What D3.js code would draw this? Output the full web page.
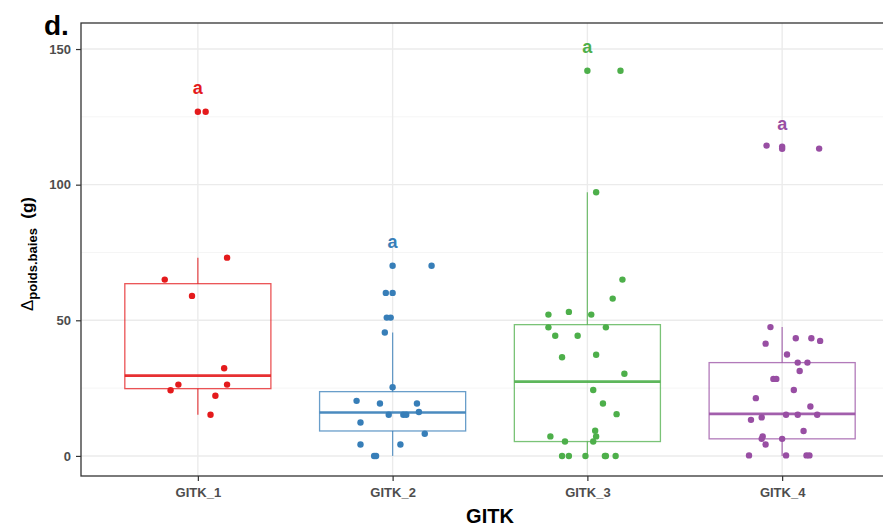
<!DOCTYPE html>
<html><head><meta charset="utf-8">
<script src="https://cdn.jsdelivr.net/npm/d3@7"></script>
<style>body{margin:0;background:#fff}svg{display:block}</style>
</head><body>
<script>
// ---- data ----
const categories = ["GITK_1","GITK_2","GITK_3","GITK_4"];
const colors = ["#E41A1C","#377EB8","#4DAF4A","#984EA3"];
// jittered points: [value, jitter offset in category units]
const pts1 = [[126.9,0.0],[126.9,0.04],[73.1,0.15],[65.0,-0.17],[59.0,-0.03],[32.3,0.135],[26.3,-0.10],[26.3,0.15],[24.2,-0.14],[22.2,0.09],[15.2,0.065]];
const pts2 = [[70.1,0.0],[70.1,0.20],[60.1,-0.035],[60.1,0.0],[51.0,-0.03],[51.0,-0.01],[45.5,-0.04],[25.3,0.0],[20.3,-0.185],[19.3,-0.065],[19.3,0.125],[16.2,0.135],[15.2,-0.02],[15.2,0.055],[15.2,0.07],[12.3,-0.165],[8.2,0.165],[4.2,-0.165],[4.2,0.04],[0.0,-0.095],[0.0,-0.085]];
const pts3 = [[142.0,0.0],[142.0,0.17],[97.2,0.045],[65.0,0.18],[58.0,0.13],[53.1,-0.095],[52.1,-0.2],[52.1,0.02],[47.4,-0.2],[47.4,0.095],[44.3,-0.165],[44.3,-0.05],[37.3,0.045],[36.4,-0.13],[30.3,0.19],[24.3,0.03],[19.3,0.08],[15.4,0.15],[9.3,0.04],[7.2,0.045],[7.2,-0.19],[5.3,-0.115],[5.3,0.03],[0.0,-0.13],[0.0,-0.095],[0.0,-0.01],[0.0,0.09],[0.0,0.095],[0.0,0.145]];
const pts4 = [[114.4,-0.08],[114.0,0.0],[113.2,0.0],[113.3,0.19],[47.5,-0.06],[43.4,0.07],[43.4,0.15],[42.4,0.195],[41.4,-0.085],[37.4,0.025],[34.4,0.08],[34.4,0.13],[31.3,0.09],[28.4,-0.045],[28.4,-0.03],[24.3,0.06],[21.3,-0.135],[18.2,0.145],[15.2,0.02],[15.2,0.08],[15.2,0.18],[14.2,-0.105],[13.3,-0.16],[9.2,0.11],[7.2,-0.1],[6.3,-0.105],[6.3,0.0],[4.2,-0.085],[0.2,-0.17],[0.2,0.02],[0.2,0.125],[0.2,0.14]];
// box stats: [lower whisker, q1, median, q3, upper whisker]
const boxStats = [[15.2,24.8,29.6,63.5,73.1],[0,9.2,16.0,23.7,45.5],[0,5.3,27.4,48.4,97.2],[0,6.3,15.5,34.4,47.5]];
const letters = ["a","a","a","a"];
const letterY = [135.6,78.9,151.0,122.4];
const yTicks = [0,50,100,150];
const yMinor = [25,75,125];

// ---- layout ----
const W=883,H=529;
const P={l:81,r:899,t:23,b:476};
const svg=d3.select("body").append("svg").attr("width",W).attr("height",H);
const x=d3.scalePoint().domain(categories).range([P.l,P.r]).padding(0.6);
const step=x.step();
const y=d3.scaleLinear().domain([-7.4,159.6]).range([P.b,P.t]);

svg.append("defs").append("clipPath").attr("id","c").append("rect")
  .attr("x",P.l).attr("y",P.t).attr("width",P.r-P.l).attr("height",P.b-P.t);
const g=svg.append("g").attr("clip-path","url(#c)");
g.append("rect").attr("x",P.l).attr("y",P.t).attr("width",P.r-P.l).attr("height",P.b-P.t).attr("fill","#fff");
g.selectAll(".mn").data(yMinor).join("line").attr("x1",P.l).attr("x2",P.r)
  .attr("y1",d=>y(d)).attr("y2",d=>y(d)).attr("stroke","#F2F2F2").attr("stroke-width",0.8);
g.selectAll(".mj").data(yTicks).join("line").attr("x1",P.l).attr("x2",P.r)
  .attr("y1",d=>y(d)).attr("y2",d=>y(d)).attr("stroke","#EBEBEB").attr("stroke-width",1.4);
g.selectAll(".vj").data(categories).join("line").attr("y1",P.t).attr("y2",P.b)
  .attr("x1",d=>x(d)).attr("x2",d=>x(d)).attr("stroke","#EBEBEB").attr("stroke-width",1.4);

const bw=step*0.75;
boxStats.forEach((s,i)=>{
  const cx=x(categories[i]), c=colors[i];
  const bg=g.append("g").attr("stroke",c).attr("fill","none");
  bg.append("line").attr("x1",cx).attr("x2",cx).attr("y1",y(s[4])).attr("y2",y(s[3])).attr("stroke-width",1.3).attr("stroke-opacity",0.75);
  bg.append("line").attr("x1",cx).attr("x2",cx).attr("y1",y(s[1])).attr("y2",y(s[0])).attr("stroke-width",1.3).attr("stroke-opacity",0.75);
  bg.append("rect").attr("x",cx-bw/2).attr("width",bw).attr("y",y(s[3])).attr("height",y(s[1])-y(s[3])).attr("stroke-width",1.3).attr("stroke-opacity",0.75);
  bg.append("line").attr("x1",cx-bw/2).attr("x2",cx+bw/2).attr("y1",y(s[2])).attr("y2",y(s[2])).attr("stroke-width",2.6).attr("stroke-opacity",0.9);
});
[pts1,pts2,pts3,pts4].forEach((pts,i)=>{
  g.selectAll(null).data(pts).join("circle")
    .attr("cx",d=>x(categories[i])+d[1]*step).attr("cy",d=>y(d[0])).attr("r",3.2)
    .attr("fill",colors[i]);
});
g.selectAll(".let").data(letters).join("text")
  .attr("x",(d,i)=>x(categories[i])).attr("y",(d,i)=>y(letterY[i]))
  .attr("dy","0.35em").attr("text-anchor","middle").attr("fill",(d,i)=>colors[i])
  .attr("font-family","Liberation Sans, Arial, sans-serif").attr("font-weight","bold").attr("font-size",18).text(d=>d);

// panel border
svg.append("rect").attr("x",P.l).attr("y",P.t).attr("width",P.r-P.l).attr("height",P.b-P.t)
  .attr("fill","none").attr("stroke","#333").attr("stroke-width",1.3);

// axes
const font="Liberation Sans, Arial, sans-serif";
const ya=svg.append("g").attr("transform",`translate(${P.l},0)`)
  .call(d3.axisLeft(y).tickValues(yTicks).tickSize(5).tickPadding(5));
ya.select(".domain").remove();
ya.selectAll("line").attr("stroke","#333").attr("stroke-width",1.2);
ya.selectAll("text").attr("font-family",font).attr("font-weight","bold").attr("font-size",13).attr("fill","#4D4D4D");
const xa=svg.append("g").attr("transform",`translate(0,${P.b})`)
  .call(d3.axisBottom(x).tickSize(5).tickPadding(7));
xa.select(".domain").remove();
xa.selectAll("line").attr("stroke","#333").attr("stroke-width",1.2);
xa.selectAll("text").attr("font-family",font).attr("font-weight","bold").attr("font-size",13).attr("fill","#4D4D4D");

// titles
svg.append("text").attr("x",(P.l+P.r)/2).attr("y",523).attr("text-anchor","middle")
  .attr("font-family",font).attr("font-weight","bold").attr("font-size",20).attr("fill","#000").text("GITK");
const yl=svg.append("text").attr("transform","translate(33,254) rotate(-90)").attr("text-anchor","middle")
  .attr("font-family",font).attr("fill","#000");
yl.append("tspan").attr("font-size",17).text("Δ");
yl.append("tspan").attr("font-size",13).attr("font-weight","bold").attr("dy",4).text("poids.baies");
yl.append("tspan").attr("font-size",17).attr("font-weight","bold").attr("dy",-4).text("\u00a0\u00a0(g)");
svg.append("text").attr("x",44).attr("y",35).attr("font-family",font).attr("font-weight","bold")
  .attr("font-size",28).attr("fill","#000").text("d.");
</script>
</body></html>
